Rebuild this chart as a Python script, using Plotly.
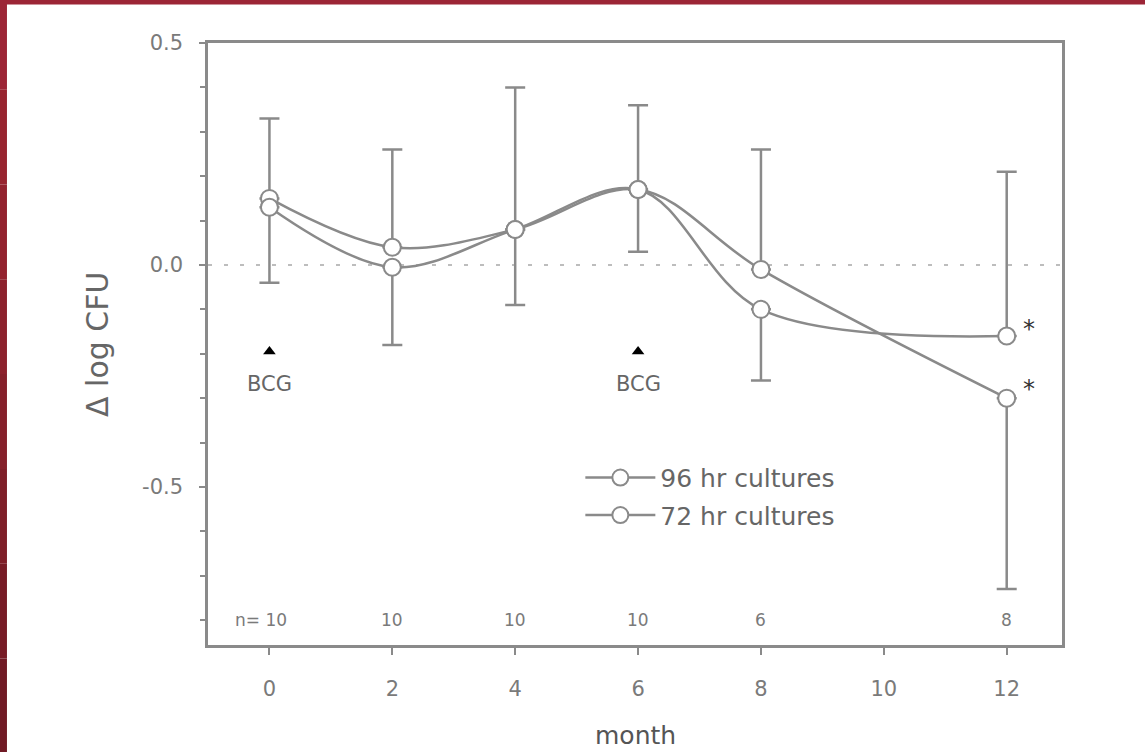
import plotly.graph_objects as go

# ---- data ----
months = [0, 2, 4, 6, 8, 12]
hr96 = [0.15, 0.04, 0.08, 0.17, -0.01, -0.30]
hr72 = [0.13, -0.005, 0.08, 0.17, -0.10, -0.16]
# asymmetric error bars (upper for 96 hr except at 12, lower for 72 hr except at 12)
hr96_err_up = [0.18, 0.22, 0.32, 0.19, 0.27, 0.0]
hr96_err_down = [0.0, 0.0, 0.0, 0.0, 0.0, 0.43]
hr72_err_up = [0.0, 0.0, 0.0, 0.0, 0.0, 0.37]
hr72_err_down = [0.17, 0.175, 0.17, 0.14, 0.16, 0.0]
n_labels = ["n= 10", "10", "10", "10", "6", "8"]
bcg_months = [0, 6]
bcg_y = -0.195
star_months = [12, 12]
star_y = [-0.145, -0.28]
x_ticks = [0, 2, 4, 6, 8, 10, 12]
y_ticks = [-0.5, 0.0, 0.5]
y_ticktext = ["-0.5", "0.0", "0.5"]

GRAY = "#8a8a8a"
TXT = "#7a7a7a"
FONT = "DejaVu Sans, Liberation Sans, Arial, sans-serif"

fig = go.Figure()

def series(name, y, up, down, group):
    fig.add_trace(go.Scatter(
        x=months, y=y, name=name, mode="lines+markers",
        line=dict(color=GRAY, width=2.5, shape="spline", smoothing=1.0),
        marker=dict(symbol="circle", size=17, color="white",
                    line=dict(color=GRAY, width=2)),
        error_y=dict(type="data", symmetric=False, array=up, arrayminus=down,
                     color=GRAY, thickness=2.5, width=10),
        legendgroup=group,
    ))

series("96 hr cultures", hr96, hr96_err_up, hr96_err_down, "a")
series("72 hr cultures", hr72, hr72_err_up, hr72_err_down, "b")

# BCG triangles
fig.add_trace(go.Scatter(
    x=bcg_months, y=[bcg_y] * len(bcg_months), mode="markers",
    marker=dict(symbol="triangle-up", size=11, color="black"),
    showlegend=False, hoverinfo="skip"))

annotations = []
for m in bcg_months:
    annotations.append(dict(x=m, y=-0.268, xref="x", yref="y", text="BCG",
                            showarrow=False, font=dict(size=21, color="#666", family=FONT)))
for m, t in zip(months, n_labels):
    if t.startswith("n"):
        annotations.append(dict(x=m + 0.32, y=-0.80, xref="x", yref="y", text=t,
                                xanchor="right", showarrow=False,
                                font=dict(size=17, color=TXT, family=FONT)))
    else:
        annotations.append(dict(x=m, y=-0.80, xref="x", yref="y", text=t,
                                showarrow=False, font=dict(size=17, color=TXT, family=FONT)))
for m, yv in zip(star_months, star_y):
    annotations.append(dict(x=m + 0.36, y=yv, xref="x", yref="y", text="*",
                            showarrow=False, font=dict(size=24, color="#333", family=FONT)))
# axis titles
annotations.append(dict(x=0.5, y=-0.150, xref="paper", yref="paper", text="month",
                        showarrow=False, yanchor="middle",
                        font=dict(size=25, color="#555", family=FONT)))
annotations.append(dict(x=-0.13, y=0.5, xref="paper", yref="paper", text="Δ log CFU",
                        showarrow=False, textangle=-90, xanchor="center",
                        font=dict(size=30, color="#666", family=FONT)))

shapes = [
    # dotted zero line
    dict(type="line", xref="paper", yref="y", x0=0, x1=1, y0=0, y1=0,
         line=dict(color="#bdbdbd", width=2, dash="4px,12px"), layer="below"),
    # decorative red frame (top and left)
    dict(type="rect", xref="paper", yref="paper", x0=-0.25, x1=1.12,
         y0=1.0640, y1=1.08, fillcolor="#9c2536", line=dict(width=0), layer="above"),
]
left_cols = ["#9c2536", "#98242f", "#93222e", "#8c212c", "#85202a",
             "#7e1e28", "#771c26", "#701a24"]
for i, c in enumerate(left_cols):
    y_top = 1.08 - i * (1.08 + 0.18) / len(left_cols)
    y_bot = 1.08 - (i + 1) * (1.08 + 0.18) / len(left_cols)
    shapes.append(dict(type="rect", xref="paper", yref="paper", x0=-0.25, x1=-0.2354,
                       y0=y_bot, y1=y_top, fillcolor=c, line=dict(width=0), layer="above"))

fig.update_layout(
    width=1145, height=752,
    margin=dict(l=208, r=83, t=43, b=107),
    paper_bgcolor="white", plot_bgcolor="white",
    font=dict(family=FONT, color=TXT),
    showlegend=True,
    legend=dict(x=0.436, y=0.316, xanchor="left", yanchor="top",
                font=dict(size=25, color="#666", family=FONT), itemwidth=70,
                bgcolor="rgba(0,0,0,0)", traceorder="grouped", tracegroupgap=2),
    xaxis=dict(range=[-1.0, 12.9], tickvals=x_ticks, ticks="outside", ticklen=7,
               tickwidth=2, tickcolor=GRAY, showgrid=False, zeroline=False,
               showline=True, linecolor=GRAY, linewidth=3, mirror=True,
               tickfont=dict(size=21, color=TXT), ticklabelstandoff=16),
    yaxis=dict(range=[-0.856, 0.5], tickvals=y_ticks, ticktext=y_ticktext,
               ticks="outside", ticklen=6, tickwidth=2, tickcolor=GRAY,
               minor=dict(dtick=0.1, tick0=0, ticks="outside", ticklen=5,
                          tickwidth=2, tickcolor=GRAY),
               showgrid=False, zeroline=False, showline=True, linecolor=GRAY,
               linewidth=2.5, mirror=True, tickfont=dict(size=21, color=TXT),
               ticklabelstandoff=12),
    annotations=annotations, shapes=shapes,
)

fig.write_html("out.html", config={"displayModeBar": False},
               post_script="document.body.style.margin='0';")
